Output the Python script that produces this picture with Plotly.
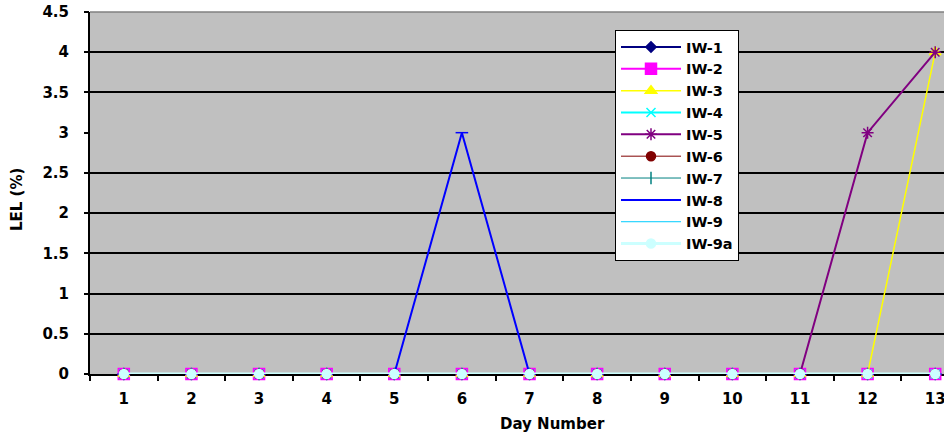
import plotly.graph_objects as go

days = list(range(1, 14))
iw1 = [0] * 13
iw2 = [0] * 13
iw3 = [0, 0, 0, 0, 0, 0, 0, 0, 0, 0, 0, 0, 4]
iw4 = [0] * 13
iw5 = [0, 0, 0, 0, 0, 0, 0, 0, 0, 0, 0, 3, 4]
iw6 = [0] * 13
iw7 = [0] * 13
iw8 = [0, 0, 0, 0, 0, 3, 0, 0, 0, 0, 0, 0, 0]
iw9 = [0] * 13
iw9a = [0] * 13
y_ticks = [0, 0.5, 1, 1.5, 2, 2.5, 3, 3.5, 4, 4.5]
grid_vals = [0.5, 1, 1.5, 2, 2.5, 3.5, 4]

series = [
    ("IW-1", iw1, "#000080", "diamond", 8, 2),
    ("IW-2", iw2, "#FF00FF", "square", 11, 2),
    ("IW-3", iw3, "#FFFF00", "triangle-up", 10, 1.5),
    ("IW-4", iw4, "#00FFFF", "x-thin-open", 9, 2),
    ("IW-5", iw5, "#800080", "asterisk-open", 10, 2),
    ("IW-6", iw6, "#800000", "circle", 9, 1),
    ("IW-7", iw7, "#008080", "line-ns-open", 9, 1),
    ("IW-8", iw8, "#0000FF", "line-ew-open", 9, 2),
    ("IW-9", iw9, "#00CCFF", None, 0, 1),
    ("IW-9a", iw9a, "#CCFFFF", "circle", 9, 3),
]

fig = go.Figure()
for name, vals, color, sym, size, lw in series:
    mode = "lines+markers" if sym else "lines"
    marker = dict(color=color, symbol=sym, size=size,
                  line=dict(color=color, width=1.5)) if sym else None
    fig.add_trace(go.Scatter(x=days, y=vals, name=name, mode=mode,
                             line=dict(color=color, width=lw),
                             marker=marker, cliponaxis=False))

# invisible trace on overlay axis that carries the tick labels
fig.add_trace(go.Scatter(x=[days[0]], y=[0], yaxis="y2", showlegend=False,
                         mode="markers", marker=dict(opacity=0), hoverinfo="skip"))

bold = dict(family="DejaVu Sans", size=15, color="black", weight="bold")
W, H = 944, 436
PL, PT, PH = 90, 12, 362
PW = W - PL
PB = H - PT - PH


def px(x):
    return (x - PL) / PW


def py(y):
    return (PT + PH - y) / PH


fig.update_layout(
    width=W, height=H,
    margin=dict(l=PL, r=0, t=PT, b=PB, autoexpand=False),
    paper_bgcolor="white",
    plot_bgcolor="#C0C0C0",
    font=bold,
    showlegend=True,
    legend=dict(x=px(615), y=py(30), xanchor="left", yanchor="top",
                bgcolor="white", bordercolor="black", borderwidth=1,
                itemwidth=60,
                font=dict(family="DejaVu Sans", size=14.5, color="black", weight="bold"),
                traceorder="normal"),
    xaxis=dict(range=[0.5, 13.13], tickmode="array", tickvals=days,
               ticktext=[str(d) for d in days],
               ticks="", showgrid=False, zeroline=False, automargin=False,
               ticklabeloverflow="allow", layer="below traces",
               showline=True, linecolor="black", linewidth=2,
               minor=dict(tick0=0.5, dtick=1, ticks="outside", ticklen=5,
                          tickcolor="black", tickwidth=2, showgrid=False),
               tickfont=bold, ticklabelstandoff=10),
    yaxis=dict(range=[0, 4.5], tickmode="array", tickvals=grid_vals,
               showticklabels=False, ticks="", showgrid=True,
               gridcolor="black", gridwidth=1.5, zeroline=False, automargin=False,
               layer="below traces",
               showline=True, linecolor="black", linewidth=2),
    yaxis2=dict(range=[0, 4.5], overlaying="y", side="left", anchor="x",
                tickmode="array", tickvals=y_ticks,
                ticktext=[str(v) for v in y_ticks],
                ticks="outside", ticklen=5, tickcolor="black", tickwidth=2,
                showgrid=False, zeroline=False, automargin=False,
                ticklabeloverflow="allow", showline=False,
                tickfont=bold, ticklabelstandoff=12),
    annotations=[
        dict(text="Day Number", x=px(552), y=py(424),
             xref="paper", yref="paper", xanchor="center", yanchor="middle",
             showarrow=False, font=bold),
        dict(text="LEL (%)", x=px(17), y=py(200), textangle=-90,
             xref="paper", yref="paper", xanchor="center", yanchor="middle",
             showarrow=False, font=bold),
    ],
    shapes=[dict(type="line", xref="paper", yref="paper", x0=0, x1=1, y0=1, y1=1,
                 line=dict(color="#808080", width=1.5))],
)

fig.write_html("out.html", config={"displayModeBar": False},
               post_script="document.body.style.margin='0';")
